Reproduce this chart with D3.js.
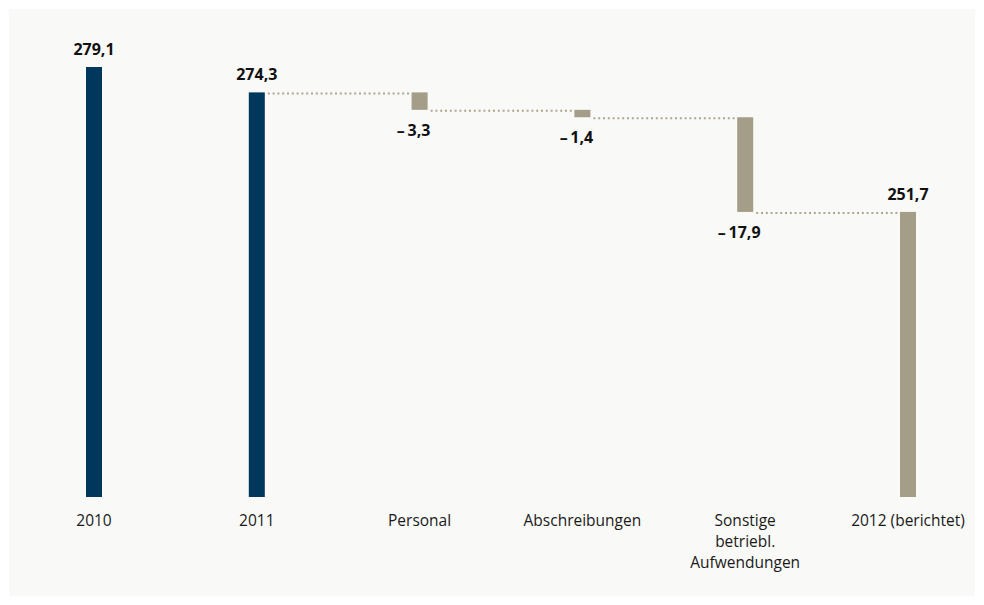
<!DOCTYPE html>
<html>
<head>
<meta charset="utf-8">
<script src="https://cdn.jsdelivr.net/npm/d3@7/dist/d3.min.js"></script>
<style>
  html, body { margin: 0; padding: 0; background: #ffffff; }
  svg { display: block; }
</style>
</head>
<body>
<svg id="chart" width="984" height="605"></svg>
<script>
// Waterfall data: totals and changes
const categories = ["2010", "2011", "Personal", "Abschreibungen", "Sonstige betriebl. Aufwendungen", "2012 (berichtet)"];
const labelLines = [["2010"], ["2011"], ["Personal"], ["Abschreibungen"], ["Sonstige", "betriebl.", "Aufwendungen"], ["2012 (berichtet)"]];
const values = [279.1, 274.3, -3.3, -1.4, -17.9, 251.7];
const kinds = ["total", "total", "delta", "delta", "delta", "total"];

const colors = { total2: "#00375c", delta: "#a49d87", line: "#aea78f" };

const svg = d3.select("#chart");

// panel background
svg.append("rect").attr("x", 9).attr("y", 9).attr("width", 966).attr("height", 587).attr("fill", "#f9f9f7");

// build bar extents
let running = 0;
const bars = categories.map((c, i) => {
  const v = values[i];
  let lo, hi, start, end;
  if (kinds[i] === "total") {
    start = v; end = v; running = v;
    lo = null; hi = v;
  } else {
    start = running; end = running + v; running = end;
    lo = Math.min(start, end); hi = Math.max(start, end);
  }
  return { c, i, v, kind: kinds[i], start, end, lo, hi, lines: labelLines[i] };
});

const baseValue = 197.8;
const y = d3.scaleLinear().domain([baseValue, 279.1]).range([497, 67]);
const x = d3.scalePoint().domain(categories).range([94, 908]);
const bw = 16;

const fmt = v => d3.format(".1f")(Math.abs(v)).replace(".", ",");

// bars
svg.append("g").selectAll("rect").data(bars).join("rect")
  .attr("x", d => x(d.c) - bw / 2)
  .attr("width", bw)
  .attr("y", d => y(d.hi))
  .attr("height", d => d.kind === "total" ? y(baseValue) - y(d.hi) : y(d.lo) - y(d.hi))
  .attr("fill", d => (d.kind === "total" && d.i < 2) ? colors.total2 : colors.delta);

// dotted connectors
const connectors = [];
for (let i = 1; i < bars.length - 1; i++) {
  const a = bars[i], b = bars[i + 1];
  connectors.push({ x1: x(a.c) + bw / 2 + 3, x2: x(b.c) - bw / 2 - 1, v: a.end });
}
svg.append("g").selectAll("line").data(connectors).join("line")
  .attr("x1", d => d.x1).attr("x2", d => d.x2)
  .attr("y1", d => y(d.v) + 1).attr("y2", d => y(d.v) + 1)
  .attr("stroke", colors.line)
  .attr("stroke-width", 2)
  .attr("stroke-dasharray", "2,2.8");

// value labels
const vl = svg.append("g")
  .attr("font-family", "'Open Sans', sans-serif")
  .attr("font-weight", "bold")
  .attr("font-size", 16)
  .attr("fill", "#111");

vl.selectAll("text").data(bars).join("text")
  .attr("text-anchor", "middle")
  .attr("x", d => d.kind === "total" ? x(d.c) : x(d.c) - 6)
  .attr("y", d => d.kind === "total" ? y(d.hi) - 12 : y(d.lo) + 26)
  .text(d => d.kind === "total" ? fmt(d.v) : "\u2013\u2009" + fmt(d.v));

// category labels, one text element per line
const catLines = bars.flatMap(d => d.lines.map((t, j) => ({ t, x: x(d.c), j })));
svg.append("g")
  .attr("font-family", "'Open Sans', sans-serif")
  .attr("font-size", 15.5)
  .attr("fill", "#1a1a1a")
  .selectAll("text").data(catLines).join("text")
  .attr("text-anchor", "middle")
  .attr("x", d => d.x)
  .attr("y", d => 526 + d.j * 21.2)
  .text(d => d.t);
</script>
</body>
</html>
